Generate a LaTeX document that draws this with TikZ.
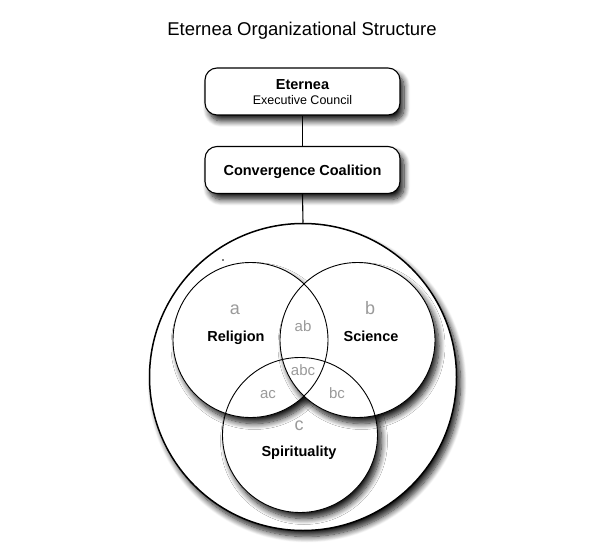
\documentclass[tikz,border=0pt]{standalone}
\usepackage{fontspec}
\setmainfont{Liberation Sans}
\usetikzlibrary{shadows.blur}
\definecolor{lbl}{HTML}{9A9A9A}
\begin{document}
\begin{tikzpicture}[x=1pt,y=-1pt,
  shad/.style={blur shadow={shadow xshift=4pt, shadow yshift=-6pt, shadow blur radius=6pt, shadow blur steps=10, shadow opacity=90}},
  box/.style={shad, draw=black, line width=1.1pt, rounded corners=12pt, fill=white,
    minimum width=195pt, minimum height=47pt, inner sep=0pt, align=center},
  vennfill/.style={shad, circle, minimum size=155pt, inner sep=0pt, fill=white},
  boldlabel/.style={font=\fontsize{14.5}{16}\selectfont\bfseries, anchor=base},
  biglabel/.style={font=\fontsize{18}{20}\selectfont, text=lbl, anchor=base},
  smalllabel/.style={font=\fontsize{15}{17}\selectfont, text=lbl, anchor=base},
  conn/.style={line width=1.1pt}
]
\useasboundingbox (0,0) rectangle (602,556);
\node[font=\fontsize{18.5}{22}\selectfont, anchor=base] (title) at (302,36) {Eternea Organizational Structure};
\node[box] (exec) at (302.5,91.5) {};
\node[boldlabel] (eternea) at (302.5,90) {Eternea};
\node[font=\fontsize{12.5}{14}\selectfont, anchor=base] (council) at (302.5,105) {Executive Council};
\node[box] (coal) at (302.5,170) {};
\node[boldlabel] (coaltext) at (302.5,175.5) {Convergence Coalition};
\node[shad, circle, draw=black, line width=1.5pt, fill=white, minimum size=307pt, inner sep=0pt] (outer) at (303,377) {};
\draw[conn] (exec.south) -- (coal.north);
\draw[conn] (coal.south) -- (outer.north);
\node[vennfill] (c) at (300,435) {};
\node[vennfill] (a) at (250.5,340) {};
\node[vennfill] (b) at (357.5,340) {};
\foreach \n in {a,b,c} \draw[line width=0.9pt] (\n) circle[radius=77.5pt];
\fill (223,260) circle[radius=0.9pt];
\node[biglabel] (la) at (235,314) {a};
\node[boldlabel] (religion) at (236,341) {Religion};
\node[biglabel] (lb) at (370,314) {b};
\node[boldlabel] (science) at (371,341) {Science};
\node[smalllabel] (lab) at (303,331) {ab};
\node[smalllabel] (labc) at (303,375) {abc};
\node[smalllabel] (lac) at (268,398) {ac};
\node[smalllabel] (lbc) at (337,398) {bc};
\node[biglabel] (lc) at (299,430) {c};
\node[boldlabel] (spirit) at (299,456) {Spirituality};
\end{tikzpicture}
\end{document}
